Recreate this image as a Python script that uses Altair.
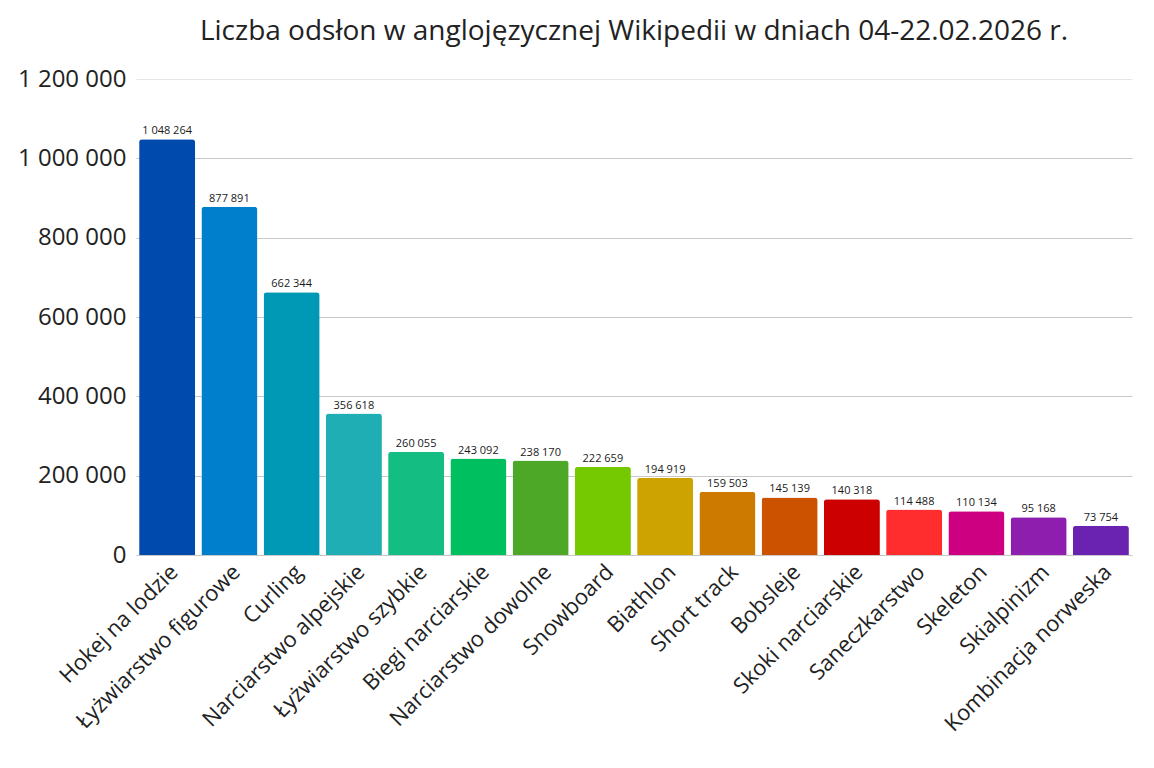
import altair as alt
import pandas as pd

categories = ["Hokej na lodzie", "Łyżwiarstwo figurowe", "Curling", "Narciarstwo alpejskie",
              "Łyżwiarstwo szybkie", "Biegi narciarskie", "Narciarstwo dowolne", "Snowboard",
              "Biathlon", "Short track", "Bobsleje", "Skoki narciarskie", "Saneczkarstwo",
              "Skeleton", "Skialpinizm", "Kombinacja norweska"]
views = [1048264, 877891, 662344, 356618, 260055, 243092, 238170, 222659,
         194919, 159503, 145139, 140318, 114488, 110134, 95168, 73754]
colors = ["#004AAD", "#0080CC", "#0099B5", "#1FAEB3", "#14BD82", "#00BF5E", "#4EA828", "#74C900",
          "#CCA300", "#CC7A00", "#CC5200", "#CC0000", "#FF2D2D", "#CC0080", "#8E1FAE", "#6A22B0"]

df = pd.DataFrame({"cat": categories, "views": views})
df["label"] = [f"{v:,}".replace(",", " ") for v in views]

FONT = "Open Sans"

x = alt.X("cat:N", sort=categories, title=None,
          scale=alt.Scale(paddingInner=0.1, paddingOuter=0.05),
          axis=alt.Axis(labelAngle=-45, labelFontSize=22, labelFont=FONT, labelColor="#222",
                        ticks=False, domain=False, labelPadding=6, labelLimit=0))

bars = alt.Chart(df).mark_bar(cornerRadiusTopLeft=3, cornerRadiusTopRight=3).encode(
    x=x,
    y=alt.Y("views:Q", title=None,
            scale=alt.Scale(domain=[0, 1200000]),
            axis=alt.Axis(values=[0, 200000, 400000, 600000, 800000, 1000000, 1200000],
                          labelExpr="replace(replace(format(datum.value, ','), ',', ' '), ',', ' ')",
                          labelFontSize=24, labelFont=FONT, labelColor="#222",
                          ticks=False, domain=False,
                          gridColor={"condition": {"test": "datum.value === 1200000", "value": "#e6e6e6"},
                                     "value": "#c8c8c8"},
                          labelPadding=10)),
    color=alt.Color("cat:N", sort=categories, scale=alt.Scale(domain=categories, range=colors), legend=None),
)

text = alt.Chart(df).mark_text(dy=-8, fontSize=11, font=FONT, color="#1a1a1a").encode(
    x=alt.X("cat:N", sort=categories),
    y=alt.Y("views:Q"),
    text="label:N",
)

chart = (bars + text).properties(
    width=996, height=476,
    title=alt.TitleParams("Liczba odsłon w anglojęzycznej Wikipedii w dniach 04-22.02.2026 r.",
                          font=FONT, fontSize=28, fontWeight="normal", color="#222", offset=21),
    padding={"left": 9, "top": 10, "right": 12, "bottom": 5},
).configure_view(stroke=None)

chart.save("out.html", embed_options={"renderer": "svg", "actions": False})
